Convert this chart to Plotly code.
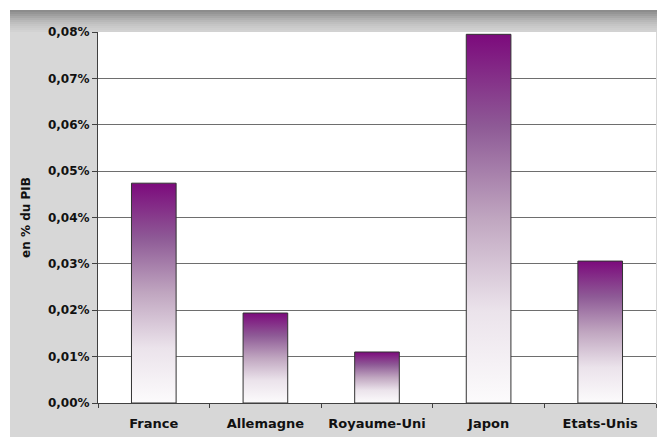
import plotly.graph_objects as go

categories = ["France", "Allemagne", "Royaume-Uni", "Japon", "Etats-Unis"]
values = [0.0474, 0.0194, 0.0110, 0.0795, 0.0306]  # en % du PIB
y_ticks = [0.00, 0.01, 0.02, 0.03, 0.04, 0.05, 0.06, 0.07, 0.08]
y_tick_text = [f"{t:.2f}%".replace(".", ",") for t in y_ticks]

W, H = 657, 437
L, R, T, B = 98, 1, 32, 34
pw, ph = W - L - R, H - T - B

def px_x(p):
    return (p - L) / pw

def px_y(p):
    return (H - B - p) / ph

half = 0.2
grad = [[0, "#fcfbfc"], [0.25, "#ebe3eb"], [0.5, "#c0a6c0"], [0.75, "#8e5a96"], [1, "#7c0a7c"]]

fig = go.Figure()
for i, (c, v) in enumerate(zip(categories, values)):
    fig.add_trace(go.Scatter(
        x=[i - half, i - half, i + half, i + half, i - half],
        y=[0, v, v, 0, 0],
        mode="lines", fill="toself",
        fillgradient=dict(type="vertical", colorscale=grad),
        line=dict(color="#333333", width=1),
        name=c, hoverinfo="skip", showlegend=False,
    ))

shapes = [dict(type="rect", xref="paper", yref="paper", layer="below",
               x0=px_x(10), x1=px_x(657), y0=px_y(437), y1=px_y(10),
               fillcolor="#d7d7d7", line=dict(width=0))]
# top shadow band gradient (decoration)
band = ["#8c8c8c", "#959595", "#9e9e9e", "#a7a7a7", "#b0b0b0", "#b8b8b8",
        "#bfbfbf", "#c5c5c5", "#cacaca", "#cecece", "#d2d2d2"]
for k, col in enumerate(band):
    shapes.append(dict(type="rect", xref="paper", yref="paper", layer="below",
                       x0=px_x(10), x1=px_x(657),
                       y0=px_y(10 + 2 * (k + 1)), y1=px_y(10 + 2 * k),
                       fillcolor=col, line=dict(width=0)))
# white plot area
shapes.append(dict(type="rect", xref="paper", yref="paper", layer="below",
                   x0=0, x1=1, y0=0, y1=1, fillcolor="white", line=dict(width=0)))

font = dict(family="DejaVu Sans", size=12, color="#111111", weight="bold")

fig.update_layout(
    width=W, height=H,
    margin=dict(l=L, r=R, t=T, b=B),
    paper_bgcolor="white", plot_bgcolor="white",
    separators=", ",
    shapes=shapes,
    font=font,
    xaxis=dict(
        range=[-0.5, 4.5], tickvals=list(range(len(categories))), ticktext=categories,
        ticks="", showgrid=False, zeroline=False,
        showline=True, linecolor="#404040", linewidth=1,
        tickfont=dict(family="DejaVu Sans", size=13, color="#111111", weight="bold"),
        ticklabelstandoff=8,
        minor=dict(tickvals=[-0.5, 0.5, 1.5, 2.5, 3.5, 4.5], ticks="outside",
                   ticklen=4, tickcolor="#404040", showgrid=False),
    ),
    yaxis=dict(
        range=[0, 0.08], tickvals=y_ticks, ticktext=y_tick_text,
        ticks="outside", ticklen=5, tickcolor="#404040",
        showgrid=True, gridcolor="#6e6e6e", gridwidth=1, zeroline=False,
        showline=True, linecolor="#404040", linewidth=1,
        tickfont=dict(family="DejaVu Sans", size=12, color="#111111", weight="bold"),
        title=dict(text="en % du PIB", standoff=14,
                   font=dict(family="DejaVu Sans", size=12, color="#111111", weight="bold")),
    ),
)

fig.write_html("out.html")
